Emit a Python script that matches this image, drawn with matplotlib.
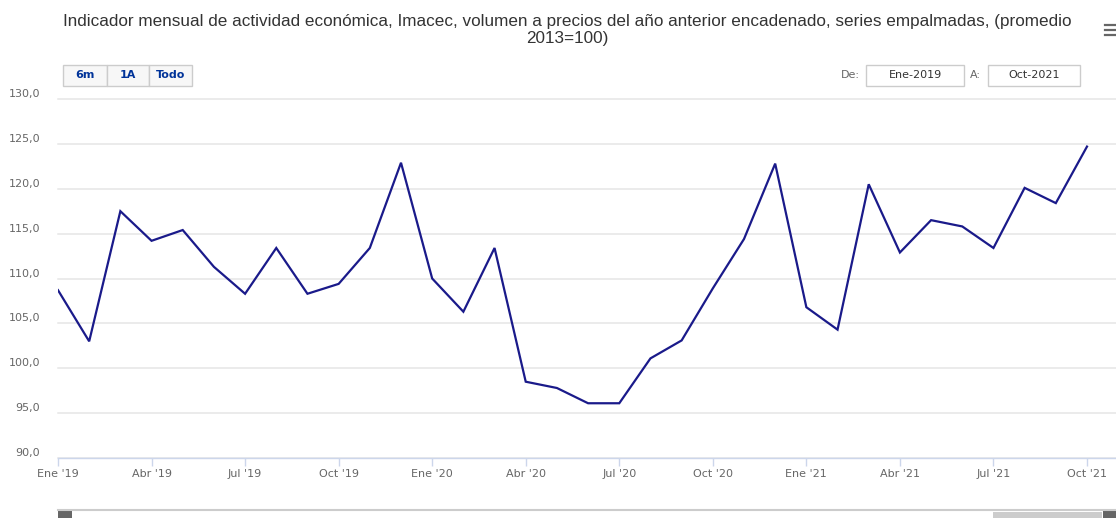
import numpy as np
import matplotlib
matplotlib.use("Agg")
from matplotlib import pyplot as plt
from matplotlib.patches import Rectangle
from matplotlib.lines import Line2D


"""--------------------------------- Data ---------------------------------"""

meses = ['Ene', 'Feb', 'Mar', 'Abr', 'May', 'Jun',
         'Jul', 'Ago', 'Sep', 'Oct', 'Nov', 'Dic']
anios = [2019, 2020, 2021]

imacec = [108.7, 103.0, 117.5, 114.2, 115.4, 111.3,
          108.3, 113.4, 108.3, 109.4, 113.4, 122.9,
          110.0, 106.3, 113.4, 98.5, 97.8, 96.1,
          96.1, 101.1, 103.1, 108.9, 114.4, 122.8,
          106.8, 104.3, 120.5, 112.9, 116.5, 115.8,
          113.4, 120.1, 118.4, 124.7]

y_ticks = [90, 95, 100, 105, 110, 115, 120, 125, 130]
x_tick_labels = ["Ene '19", "Abr '19", "Jul '19", "Oct '19",
                 "Ene '20", "Abr '20", "Jul '20", "Oct '20",
                 "Ene '21", "Abr '21", "Jul '21", "Oct '21"]
botones = ['6m', '1A', 'Todo']
desde, hasta = 'Ene-2019', 'Oct-2021'

titulo = ("Indicador mensual de actividad económica, Imacec, volumen a "
          "precios del año anterior encadenado, series empalmadas, "
          "(promedio\n2013=100)")

"""------------------------------- Plotting -------------------------------"""

W, H = 1116, 518
fig = plt.figure(figsize=(W / 100, H / 100), dpi=100)
plt.rcParams['font.family'] = ['DejaVu Sans']


def fx(px):
    return px / W


def fy(py):
    return 1 - py / H


x0, x1 = 58, 1116
ytop, ybot = 99, 458
ax = fig.add_axes([fx(x0), fy(ybot), fx(x1 - x0), fy(ytop) - fy(ybot)])

x = np.arange(len(imacec))
ax.plot(x, imacec, color='#1a1a8a', linewidth=1.6, solid_joinstyle='miter')

px_per_month = (1087 - 58) / 33
ax.set_xlim(0, (x1 - x0) / px_per_month)
ax.set_ylim(90, 130)

ax.set_yticks(y_ticks)
ax.set_yticklabels([])
ax.tick_params(axis='y', length=0)
ax.grid(axis='y', color='#e6e6e6', linewidth=1.1)
ax.set_axisbelow(True)
for gl in ax.get_ygridlines():
    gl.set_clip_on(False)
for v in y_ticks:
    ax.text(-0.017, v + 0.55, f"{v:.1f}".replace('.', ','),
            transform=ax.get_yaxis_transform(), ha='right', va='center',
            fontsize=8, color='#666666')

ax.set_xticks(np.arange(0, 34, 3))
ax.set_xticklabels(x_tick_labels, fontsize=8, color='#666666')
ax.tick_params(axis='x', length=6, width=1, color='#ccd6eb', pad=2)

for side in ['top', 'right', 'left']:
    ax.spines[side].set_visible(False)
ax.spines['bottom'].set_color('#ccd6eb')
ax.spines['bottom'].set_linewidth(1)

# title
fig.text(fx(567), fy(30), titulo, ha='center', va='center',
         fontsize=12.3, color='#333333', linespacing=1.2,
         family='Liberation Sans')

# menu icon
for yy in [25, 30, 35]:
    fig.add_artist(Line2D([fx(1105), fx(1116)], [fy(yy), fy(yy)],
                          color='#666666', linewidth=1.6))

# range selector buttons
bx = [63, 107, 149, 192]
for i, b in enumerate(botones):
    fig.add_artist(Rectangle((fx(bx[i]), fy(86)), fx(bx[i + 1] - bx[i]),
                             fy(65) - fy(86), facecolor='#f7f7f7',
                             edgecolor='#cccccc', linewidth=1))
    fig.text(fx((bx[i] + bx[i + 1]) / 2), fy(75), b, ha='center',
             va='center', fontsize=8, color='#003399', fontweight='bold')

# date inputs
fig.text(fx(860), fy(75), 'De:', ha='right', va='center', fontsize=8,
         color='#666666')
fig.text(fx(981), fy(75), 'A:', ha='right', va='center', fontsize=8,
         color='#666666')
for (a, b), t in zip([(866, 964), (988, 1080)], [desde, hasta]):
    fig.add_artist(Rectangle((fx(a), fy(86)), fx(b - a), fy(65) - fy(86),
                             facecolor='white', edgecolor='#cccccc',
                             linewidth=1))
    fig.text(fx((a + b) / 2), fy(75), t, ha='center', va='center',
             fontsize=8, color='#333333')

# scrollbar
fig.add_artist(Line2D([fx(58), fx(1116)], [fy(510), fy(510)],
                      color='#cccccc', linewidth=1.5))
fig.add_artist(Rectangle((fx(993), fy(518)), fx(1102 - 993),
                         fy(512) - fy(518), facecolor='#cccccc',
                         edgecolor='none'))
fig.add_artist(Rectangle((fx(58), fy(518)), fx(14), fy(510) - fy(518),
                         facecolor='#666666', edgecolor='none'))
fig.add_artist(Rectangle((fx(1103), fy(518)), fx(13), fy(510) - fy(518),
                         facecolor='#666666', edgecolor='none'))

fig.savefig('out.png', dpi=100)
